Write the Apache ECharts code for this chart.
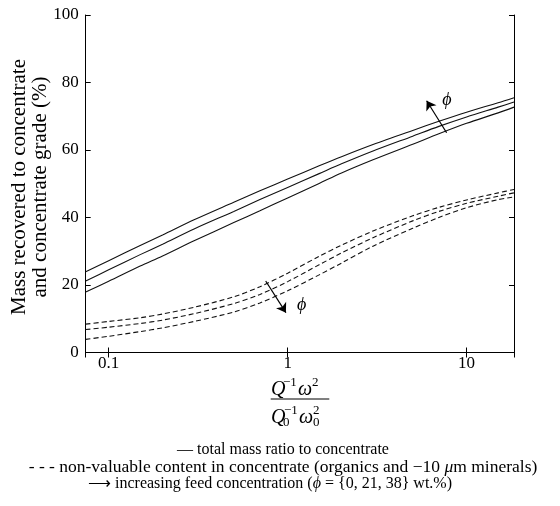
<!DOCTYPE html>
<html><head><meta charset="utf-8">
<script src="https://cdn.jsdelivr.net/npm/echarts@6/dist/echarts.min.js"></script>
<style>html,body{margin:0;padding:0;background:#fff}#c{width:560px;height:506px}</style>
</head><body><div id="c"></div>
<script>
// x values (Q^-1 w^2 / Q0^-1 w0^2), log axis
const xValues = [0.0744, 0.1, 0.15, 0.2, 0.3, 0.5, 0.7, 1, 1.5, 2, 3, 5, 7, 10, 15, 18.4];
// solid: total mass ratio to concentrate (%), phi = 0, 21, 38 wt.%
const massPhi0  = [17.9, 21.1, 25.6, 28.6, 33.1, 38.5, 42.0, 45.8, 50.1, 53.2, 57.1, 61.7, 64.8, 67.9, 71.0, 72.7];
const massPhi21 = [21.2, 24.5, 29.0, 32.1, 36.6, 41.8, 45.3, 48.9, 53.0, 55.9, 59.7, 64.1, 67.0, 69.8, 72.7, 74.2];
const massPhi38 = [23.9, 27.2, 31.7, 34.8, 39.3, 44.5, 47.9, 51.4, 55.3, 58.0, 61.6, 65.8, 68.5, 71.2, 74.0, 75.5];
// dashed: non-valuable content in concentrate (%), phi = 0, 21, 38 wt.%
const gradePhi0  = [8.4, 9.2, 10.3, 11.4, 13.4, 16.5, 19.5, 23.5, 28.5, 31.8, 36.0, 40.5, 43.0, 45.2, 47.3, 48.3];
const gradePhi21 = [6.8, 7.5, 8.6, 9.6, 11.5, 14.5, 17.2, 21.0, 26.0, 29.5, 34.0, 39.0, 41.8, 44.2, 46.3, 47.3];
const gradePhi38 = [3.9, 4.8, 6.2, 7.3, 9.2, 12.0, 14.7, 18.3, 23.0, 26.5, 31.5, 36.8, 40.0, 42.9, 45.3, 46.1];
// axis settings
const xMin = 0.0744, xMax = 18.4;
const yTicks = [0, 20, 40, 60, 80, 100];
// annotation arrows (data coordinates): [tail, head]
const arrowUp = [[7.73, 65.1], [5.98, 74.6]];
const arrowDown = [[0.754, 21.2], [0.978, 11.8]];
const phiLabels = [[7.76, 74.8], [1.197, 14.1]];

const SERIF = '"Liberation Serif", "Times New Roman", serif';
const pair = arr => xValues.map((x, i) => [x, arr[i]]);
const isPow10 = v => Math.abs(Math.log10(v) - Math.round(Math.log10(v))) < 1e-6;
const fmtX = v => isPow10(v) ? (v < 1 ? '0.1' : String(Math.round(v))) : '';

const axisCommon = {
  axisLine: {show: true, lineStyle: {color: '#000', width: 1}},
  axisTick: {show: true, inside: true, length: 5, lineStyle: {color: '#000', width: 1}},
  splitLine: {show: false}
};

function lineSeries(name, arr, dashed) {
  return {
    name, type: 'line', data: pair(arr), showSymbol: false, smooth: 0.3,
    xAxisIndex: 0, yAxisIndex: 0, silent: true,
    lineStyle: {color: '#111', width: 1.1, type: dashed ? [5, 3] : 'solid'}
  };
}

const series = [
  lineSeries('mass φ=0', massPhi0, false),
  lineSeries('mass φ=21', massPhi21, false),
  lineSeries('mass φ=38', massPhi38, false),
  lineSeries('grade φ=0', gradePhi0, true),
  lineSeries('grade φ=21', gradePhi21, true),
  lineSeries('grade φ=38', gradePhi38, true)
];
series[0].markLine = {
  silent: true, animation: false,
  symbol: ['none', 'arrow'], symbolSize: 9,
  label: {show: false},
  lineStyle: {color: '#000', width: 1.2, type: 'solid'},
  data: [
    [{coord: arrowUp[0]}, {coord: arrowUp[1]}],
    [{coord: arrowDown[0]}, {coord: arrowDown[1]}]
  ]
};
series[0].markPoint = {
  silent: true, animation: false,
  symbol: 'rect', symbolSize: 1,
  itemStyle: {color: 'rgba(0,0,0,0)'},
  label: {show: true, position: 'inside', formatter: 'ϕ', color: '#000',
          fontFamily: SERIF, fontStyle: 'italic', fontSize: 18},
  data: phiLabels.map(c => ({coord: c}))
};

const chart = echarts.init(document.getElementById('c'), null, {renderer: 'canvas'});
const mathFont = {fontFamily: SERIF, fill: '#000'};
function t(text, x, y, size, italic, align) {
  return {type: 'text', x, y, silent: true,
    style: Object.assign({text, fontSize: size, fontStyle: italic ? 'italic' : 'normal',
      align: align || 'left', verticalAlign: 'middle'}, mathFont)};
}
chart.setOption({
  animation: false,
  backgroundColor: '#fff',
  grid: {left: 85.7, right: 46, top: 15, bottom: 153.5, containLabel: false},
  xAxis: [
    Object.assign({type: 'log', logBase: 10, min: xMin, max: xMax, position: 'bottom',
      axisLabel: {formatter: fmtX, color: '#000', fontFamily: SERIF, fontSize: 17, margin: 3}}, axisCommon),
    Object.assign({type: 'log', logBase: 10, min: xMin, max: xMax, position: 'top',
      axisLabel: {show: false}}, axisCommon)
  ],
  yAxis: [
    Object.assign({type: 'value', min: yTicks[0], max: yTicks[yTicks.length - 1], interval: 20, position: 'left',
      axisLabel: {color: '#000', fontFamily: SERIF, fontSize: 17, margin: 7}}, axisCommon),
    Object.assign({type: 'value', min: yTicks[0], max: yTicks[yTicks.length - 1], interval: 20, position: 'right',
      axisLabel: {show: false}}, axisCommon)
  ],
  series,
  graphic: [
    {type: 'text', x: 30, y: 187, rotation: Math.PI / 2, silent: true,
     style: {text: 'Mass recovered to concentrate\nand concentrate grade (%)', fontFamily: SERIF,
       fontSize: 21, lineHeight: 21, fill: '#000', align: 'center', verticalAlign: 'middle'}},
    // fraction numerator
    t('Q', 271, 390, 20, true), t('−1', 283, 382.7, 13, false),
    t('ω', 298, 390, 20, true), t('2', 312, 382.7, 13, false),
    {type: 'line', silent: true, shape: {x1: 270.7, y1: 399, x2: 329.3, y2: 399}, style: {stroke: '#000', lineWidth: 1}},
    // denominator
    t('Q', 271, 417.4, 20, true), t('−1', 284, 410.7, 13, false), t('0', 283, 422.7, 13, false),
    t('ω', 299, 417.4, 20, true), t('2', 313, 410.7, 13, false), t('0', 313, 422.7, 13, false),
    // key text
    {type: 'text', x: 283, y: 450, silent: true,
     style: {text: '— total mass ratio to concentrate', fontFamily: SERIF, fontSize: 16, fill: '#000', align: 'center', verticalAlign: 'middle'}},
    {type: 'text', x: 283, y: 467, silent: true,
     style: {text: '- - - non-valuable content in concentrate (organics and −10 {i|μ}m minerals)', fontFamily: SERIF, fontSize: 17.5, fill: '#000', align: 'center', verticalAlign: 'middle',
       rich: {i: {fontStyle: 'italic', fontFamily: SERIF, fontSize: 17.5}}}},
    {type: 'text', x: 270, y: 484, silent: true,
     style: {text: '⟶ increasing feed concentration ({i|ϕ} = {0, 21, 38} wt.%)', fontFamily: SERIF, fontSize: 16, fill: '#000', align: 'center', verticalAlign: 'middle',
       rich: {i: {fontStyle: 'italic', fontFamily: SERIF, fontSize: 16}}}}
  ]
});
</script></body></html>
